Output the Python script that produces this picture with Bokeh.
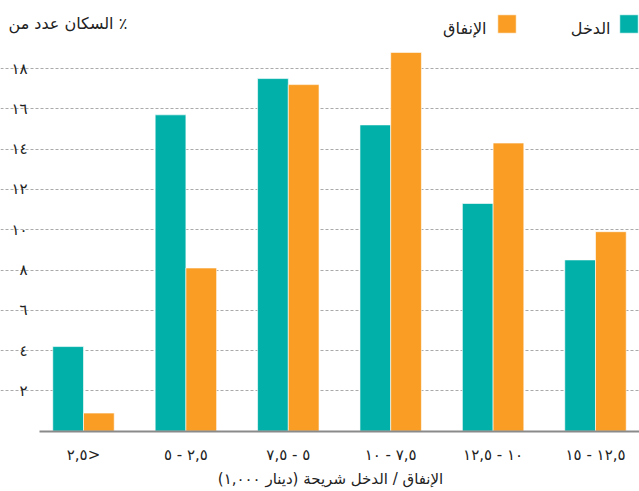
from bokeh.plotting import figure
from bokeh.models import (ColumnDataSource, FixedTicker, Range1d, Legend, LegendItem, Label)
from bokeh.transform import dodge
from bokeh.embed import file_html
from bokeh.resources import INLINE

RLM = "\u200f"

# ---- data ----
categories = [RLM + "<٢,٥", "٢,٥ - ٥", "٥ - ٧,٥", "٧,٥ - ١٠", "١٠ - ١٢,٥", "١٢,٥ - ١٥"]
income = [4.2, 15.7, 17.5, 15.2, 11.3, 8.5]        # الدخل
spending = [0.9, 8.1, 17.2, 18.8, 14.3, 9.9]       # الإنفاق
y_ticks = [2, 4, 6, 8, 10, 12, 14, 16, 18]
y_tick_labels = ["٢", "٤", "٦", "٨", "١٠", "١٢", "١٤", "١٦", "١٨"]
series_names = ["الدخل", "الإنفاق"]
y_title = "السكان عدد من ٪"
x_title = "(دينار ١,٠٠٠) الإنفاق / الدخل شريحة"

TEAL = "#00B0A9"
ORANGE = "#F99D25"
FONT = "DejaVu Sans"
TXT = "#222222"

# layout (pixels)
W, H = 639, 491
X_PX = 102.4          # pixels per category
Y_PX = 20.15          # pixels per percentage point
X0_PX = 83            # pixel position of first category centre
Y0_PX = 430.7         # pixel position of value 0 from top
AXIS_LEFT_PX = 39     # where grid lines / baseline start

xs = list(range(len(categories)))
src = ColumnDataSource(dict(x=xs, income=income, spending=spending))

x_start = -X0_PX / X_PX
x_end = x_start + W / X_PX
y_start = -(H - Y0_PX) / Y_PX
y_end = y_start + H / Y_PX
x_axis_left = x_start + AXIS_LEFT_PX / X_PX

p = figure(width=W, height=H, output_backend="svg", toolbar_location=None,
           x_range=Range1d(x_start, x_end), y_range=Range1d(y_start, y_end),
           min_border=0)
p.outline_line_color = None
p.background_fill_color = "white"
p.border_fill_color = "white"

r_inc = p.vbar(x=dodge("x", -0.15), top="income", width=0.3, bottom=0, source=src,
               fill_color=TEAL, line_color="white", line_alpha=0.6, line_width=1)
r_sp = p.vbar(x=dodge("x", 0.15), top="spending", width=0.3, bottom=0, source=src,
              fill_color=ORANGE, line_color="white", line_alpha=0.6, line_width=1)

# x axis: fixed at value 0
p.xaxis.fixed_location = 0
p.xaxis.bounds = (x_axis_left, x_end)
p.xaxis.ticker = FixedTicker(ticks=xs)
p.xaxis.major_label_overrides = {i: c for i, c in enumerate(categories)}
p.xaxis.major_tick_line_color = None
p.xaxis.minor_tick_line_color = None
p.xaxis.axis_line_color = "#8a8a8a"
p.xaxis.axis_line_width = 2
p.xaxis.major_label_text_font = FONT
p.xaxis.major_label_text_font_size = "15px"
p.xaxis.major_label_text_color = TXT
p.xaxis.major_label_standoff = 9

# y axis: fixed at the left end of the grid
p.yaxis.fixed_location = x_axis_left
p.yaxis.ticker = FixedTicker(ticks=y_ticks)
p.yaxis.major_label_overrides = {t: l for t, l in zip(y_ticks, y_tick_labels)}
p.yaxis.axis_line_color = None
p.yaxis.major_tick_line_color = None
p.yaxis.minor_tick_line_color = None
p.yaxis.major_label_text_font = FONT
p.yaxis.major_label_text_font_size = "15px"
p.yaxis.major_label_text_color = TXT
p.yaxis.major_label_standoff = 6

p.xgrid.grid_line_color = None
p.ygrid.ticker = FixedTicker(ticks=y_ticks)
p.ygrid.bounds = (x_axis_left, x_end)
p.ygrid.grid_line_color = "#aaaaaa"
p.ygrid.grid_line_dash = "3 2"
p.ygrid.grid_line_width = 1

# legend squares (labels drawn to their left, RTL style)
legend = Legend(items=[LegendItem(label=" ", renderers=[r_sp]),
                       LegendItem(label=" ", renderers=[r_inc])],
                orientation="horizontal", location=(495, H - 35),
                glyph_width=23, glyph_height=23, label_width=0, label_standoff=0,
                spacing=99, padding=0, margin=0, border_line_color=None,
                background_fill_alpha=0, label_text_font_size="1px")
p.add_layout(legend, "center")

def add_text(x, y, text, align, size):
    p.add_layout(Label(x=x, y=y, x_units="screen", y_units="screen", text=text,
                       text_align=align, text_baseline="middle", text_font=FONT,
                       text_font_size=size, text_color=TXT))

add_text(486, H - 28, series_names[1], "right", "16px")
add_text(610, H - 28, series_names[0], "right", "16px")
add_text(8, H - 23, y_title, "left", "16px")
add_text(330, H - 478, x_title, "center", "15px")

open("out.html", "w").write(file_html(p, INLINE))
